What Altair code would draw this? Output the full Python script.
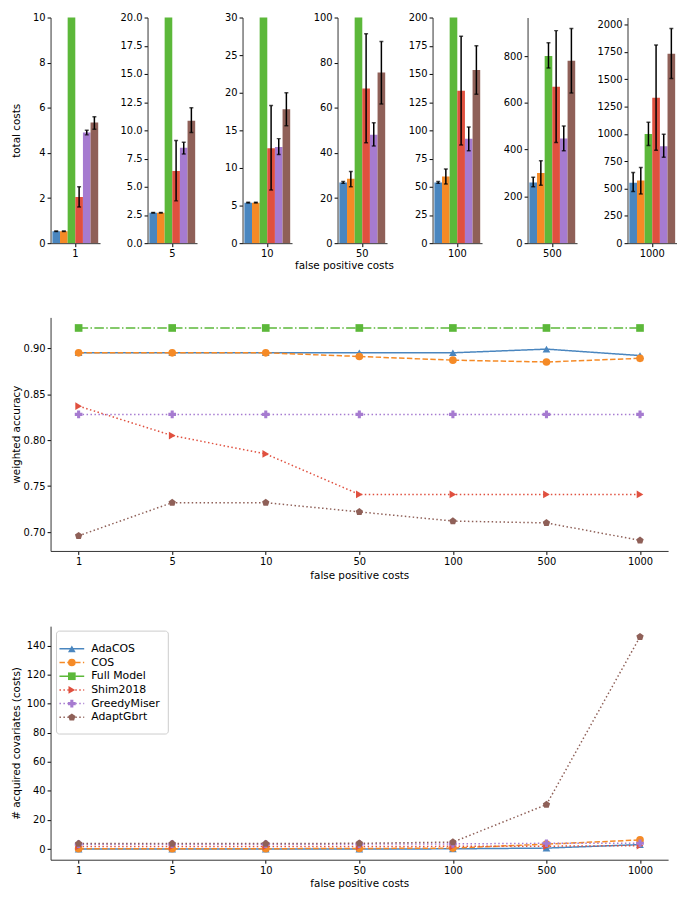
import altair as alt
import pandas as pd

costs = ["1", "5", "10", "50", "100", "500", "1000"]
methods = ["AdaCOS", "COS", "Full Model", "Shim2018", "GreedyMiser", "AdaptGbrt"]

# ---- top row: total costs (mean, lower and upper error-bar ends) per false positive cost
tc_adacos = [0.53, 2.70, 5.38, 26.9, 53.8, 259, 553]
tc_adacos_lo = [0.52, 2.68, 5.33, 26.5, 53.0, 241, 472]
tc_adacos_hi = [0.54, 2.72, 5.43, 27.3, 54.6, 282, 646]
tc_cos = [0.53, 2.70, 5.38, 28.5, 59.2, 300, 574]
tc_cos_lo = [0.52, 2.68, 5.33, 25.0, 52.5, 248, 451]
tc_cos_hi = [0.54, 2.72, 5.43, 31.8, 65.8, 353, 693]
tc_full = [600, 602, 604, 620, 640, 800, 1000]
tc_full_lo = [590, 592, 594, 610, 628, 749, 894]
tc_full_hi = [610, 612, 614, 630, 652, 857, 1106]
tc_shim = [2.05, 6.4, 12.63, 68.5, 135, 669, 1331]
tc_shim_lo = [1.6, 3.75, 7.08, 44.5, 87, 431, 851]
tc_shim_hi = [2.5, 9.1, 18.3, 92.8, 183.5, 909, 1814]
tc_greedy = [4.9, 8.45, 12.8, 48.0, 92.5, 448, 888]
tc_greedy_lo = [4.8, 7.9, 11.8, 43.1, 82, 395, 786]
tc_greedy_hi = [5.0, 8.95, 13.9, 53.4, 103, 501, 996]
tc_adapt = [5.35, 10.85, 17.8, 75.6, 153.6, 780, 1733]
tc_adapt_lo = [5.05, 9.8, 15.6, 61.7, 132, 642, 1506]
tc_adapt_hi = [5.6, 12.0, 20.0, 89.4, 175, 918, 1965]

panel_ymax = [10, 20, 30, 100, 200, 965, 2065]
panel_ticks = [
    [0, 2, 4, 6, 8, 10],
    [0, 2.5, 5, 7.5, 10, 12.5, 15, 17.5, 20],
    [0, 5, 10, 15, 20, 25, 30],
    [0, 20, 40, 60, 80, 100],
    [0, 25, 50, 75, 100, 125, 150, 175, 200],
    [0, 200, 400, 600, 800],
    [0, 250, 500, 750, 1000, 1250, 1500, 1750, 2000],
]
panel_formats = ["d", ".1f", "d", "d", "d", "d", "d"]

# ---- middle: weighted accuracy
acc_adacos = [0.895, 0.895, 0.895, 0.895, 0.895, 0.899, 0.892]
acc_cos = [0.895, 0.895, 0.895, 0.891, 0.887, 0.885, 0.889]
acc_full = [0.922, 0.922, 0.922, 0.922, 0.922, 0.922, 0.922]
acc_shim = [0.837, 0.805, 0.785, 0.741, 0.741, 0.741, 0.741]
acc_greedy = [0.828, 0.828, 0.828, 0.828, 0.828, 0.828, 0.828]
acc_adapt = [0.696, 0.732, 0.732, 0.722, 0.712, 0.710, 0.691]
acc_ticks = [0.70, 0.75, 0.80, 0.85, 0.90]

# ---- bottom: number of acquired covariates (Full Model not drawn)
acq_adacos = [0.0, 0.0, 0.0, 0.0, 0.2, 0.7, 3.1]
acq_cos = [0.3, 0.3, 0.3, 0.4, 0.7, 3.4, 6.3]
acq_shim = [1.8, 1.8, 1.8, 1.8, 1.9, 2.0, 2.4]
acq_greedy = [3.4, 3.4, 3.4, 3.4, 3.6, 4.0, 4.0]
acq_adapt = [3.8, 3.8, 3.8, 4.0, 4.8, 30.6, 146.0]
acq_ticks = [0, 20, 40, 60, 80, 100, 120, 140]

bar_colors = ["#4a86bf", "#f58a26", "#5cb83a", "#e0503f", "#a67bd0", "#8f6058"]
line_colors = ["#1f77b4", "#ff7f0e", "#2ca02c", "#d62728", "#9467bd", "#8c564b"]
dash_range = [[1, 0], [5.5, 2.4], [9.6, 2.4, 1.5, 2.4], [1.5, 2.5], [1.5, 2.5], [1.5, 2.5]]
pentagon = "M0,-1L0.951,-0.309L0.588,0.809L-0.588,0.809L-0.951,-0.309Z"
shape_range = ["triangle-up", "circle", "square", "triangle-right", "cross", pentagon]

FONT = "DejaVu Sans"

# ---------------- top row of bar panels ----------------
tc = {
    "AdaCOS": (tc_adacos, tc_adacos_lo, tc_adacos_hi),
    "COS": (tc_cos, tc_cos_lo, tc_cos_hi),
    "Full Model": (tc_full, tc_full_lo, tc_full_hi),
    "Shim2018": (tc_shim, tc_shim_lo, tc_shim_hi),
    "GreedyMiser": (tc_greedy, tc_greedy_lo, tc_greedy_hi),
    "AdaptGbrt": (tc_adapt, tc_adapt_lo, tc_adapt_hi),
}

panels = []
for i, c in enumerate(costs):
    rows = []
    for m in methods:
        v, lo, hi = tc[m]
        rows.append({"cost": c, "method": m, "value": v[i], "lo": lo[i], "hi": hi[i]})
    df = pd.DataFrame(rows)
    x = alt.X("cost:N", scale=alt.Scale(paddingInner=0, paddingOuter=0.04),
              axis=alt.Axis(title=None, labelAngle=0))
    xo = alt.XOffset("method:N", scale=alt.Scale(domain=methods, paddingInner=0, paddingOuter=0))
    yaxis = alt.Axis(values=panel_ticks[i], tickCount=len(panel_ticks[i]),
                     format=panel_formats[i], minExtent=26, maxExtent=26, labelOverlap=False,
                     title="total costs" if i == 0 else None, titlePadding=3)
    yscale = alt.Scale(domain=[0, panel_ymax[i]], nice=False)
    base = alt.Chart(df)
    bars = base.mark_bar(clip=True).encode(
        x=x, xOffset=xo,
        y=alt.Y("value:Q", scale=yscale, axis=yaxis),
        color=alt.Color("method:N", scale=alt.Scale(domain=methods, range=bar_colors), legend=None),
    )
    err = base.mark_rule(color="black", strokeWidth=1.5, clip=True).encode(
        x=x, xOffset=xo, y=alt.Y("lo:Q"), y2="hi:Q")
    cap_lo = base.mark_tick(color="black", thickness=1.5, size=4, clip=True).encode(
        x=x, xOffset=xo, y=alt.Y("lo:Q"))
    cap_hi = base.mark_tick(color="black", thickness=1.5, size=4, clip=True).encode(
        x=x, xOffset=xo, y=alt.Y("hi:Q"))
    panels.append(alt.layer(bars, err, cap_lo, cap_hi).properties(width=50, height=228))

top = alt.hconcat(*panels, spacing=20).properties(
    title=alt.TitleParams("false positive costs", orient="bottom", anchor="middle",
                          fontSize=10.5, fontWeight="normal", font=FONT, offset=3, color="black"))

# ---------------- line panels ----------------
color_enc = alt.Color("method:N", scale=alt.Scale(domain=methods, range=line_colors), legend=None)
dash_enc = alt.StrokeDash("method:N", scale=alt.Scale(domain=methods, range=dash_range), legend=None)
shape_enc = alt.Shape("method:N", scale=alt.Scale(domain=methods, range=shape_range), legend=None)


def line_panel(df, ycol, domain, ticks, fmt, ytitle):
    x = alt.X("cost:N", sort=costs,
              scale=alt.Scale(type="point", padding=0.3, domain=costs),
              axis=alt.Axis(title="false positive costs", labelAngle=0))
    y = alt.Y(f"{ycol}:Q", scale=alt.Scale(domain=domain, nice=False, zero=False),
              axis=alt.Axis(title=ytitle, values=ticks, tickCount=len(ticks), format=fmt,
                            labelOverlap=False, minExtent=26, maxExtent=26, titlePadding=3))
    base = alt.Chart(df)
    lines = base.mark_line(strokeWidth=1.5).encode(x=x, y=y, color=color_enc, strokeDash=dash_enc)
    pts = base.mark_point(filled=True, size=60, opacity=1).encode(
        x=x, y=y, color=color_enc, shape=shape_enc)
    return alt.layer(lines, pts)


acc = {"AdaCOS": acc_adacos, "COS": acc_cos, "Full Model": acc_full,
       "Shim2018": acc_shim, "GreedyMiser": acc_greedy, "AdaptGbrt": acc_adapt}
df_acc = pd.DataFrame([{"cost": c, "method": m, "acc": acc[m][i]}
                       for m in methods for i, c in enumerate(costs)])
mid = line_panel(df_acc, "acc", [0.6795, 0.9335], acc_ticks, ".2f",
                 "weighted accuracy").properties(width=624, height=236)

acq = {"AdaCOS": acq_adacos, "COS": acq_cos, "Shim2018": acq_shim,
       "GreedyMiser": acq_greedy, "AdaptGbrt": acq_adapt}
df_acq = pd.DataFrame([{"cost": c, "method": m, "acq": acq[m][i]}
                       for m in methods if m in acq for i, c in enumerate(costs)])
bot_main = line_panel(df_acq, "acq", [-7.3, 153.3], acq_ticks, "d",
                      "# acquired covariates (costs)")

# legend drawn as a layer (line + marker + label per method)
df_leg = pd.DataFrame({"method": methods})
leg_y = alt.Y("method:N", scale=alt.Scale(type="point", domain=methods, range=[16, 99]), axis=None)
box = alt.Chart(pd.DataFrame({"a": [0]})).mark_rect(
    fill="white", stroke="#cccccc", strokeWidth=1, cornerRadius=3).encode(
    x=alt.value(6), x2=alt.value(119), y=alt.value(5), y2=alt.value(109))
leg_lines = alt.Chart(df_leg).mark_rule(strokeWidth=1.5).encode(
    x=alt.value(9), x2=alt.value(34), y=leg_y, color=color_enc, strokeDash=dash_enc)
leg_pts = alt.Chart(df_leg).mark_point(filled=True, size=60, opacity=1).encode(
    x=alt.value(21.5), y=leg_y, color=color_enc, shape=shape_enc)
leg_txt = alt.Chart(df_leg).mark_text(align="left", baseline="middle", fontSize=11,
                                      font=FONT, color="black").encode(
    x=alt.value(41), y=leg_y, text="method:N")
legend = alt.layer(box, leg_lines, leg_pts, leg_txt)

bot = alt.layer(bot_main, legend).resolve_scale(y="independent").properties(width=624, height=236)

chart = alt.vconcat(top, mid, bot, spacing=46).properties(
    padding={"left": 4, "top": 0, "right": 0, "bottom": 0}
).configure(font=FONT).configure_view(stroke=None).configure_axis(
    grid=False, domainColor="#333333", domainWidth=1, tickColor="black", tickSize=3.5,
    labelColor="black", titleColor="black", labelFontSize=10, titleFontSize=10.5,
    titleFontWeight="normal", labelPadding=2, labelFont=FONT, titleFont=FONT,
    labelOverlap=False,
)

chart.save("out.html", embed_options={"renderer": "svg", "actions": False})
